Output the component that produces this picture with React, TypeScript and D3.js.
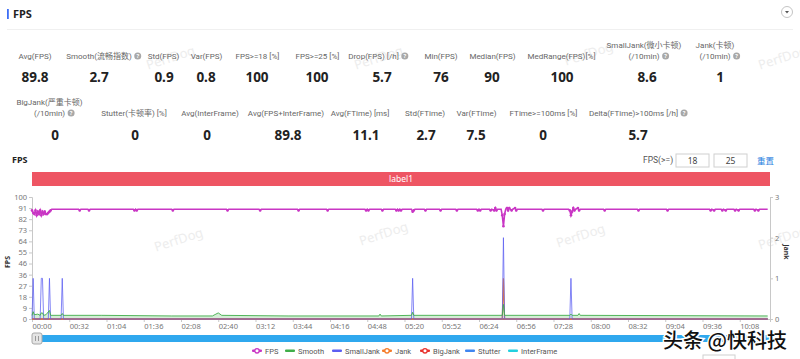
import React, { useEffect, useRef } from "react";
import * as d3 from "d3";

const W = 800;
const H = 359;
const FONT = "'Noto Sans', 'Noto Sans CJK SC', sans-serif";
const LABEL_FONT = "Roboto, 'Noto Sans CJK SC', sans-serif";

// ---- summary stats ----
const topLabels: string[][] = [
  ["Avg(FPS)"], ["Smooth(流畅指数)"], ["Std(FPS)"], ["Var(FPS)"], ["FPS>=18 [%]"], ["FPS>=25 [%]"],
  ["Drop(FPS) [/h]"], ["Min(FPS)"], ["Median(FPS)"], ["MedRange(FPS)[%]"],
  ["SmallJank(微小卡顿)", "(/10min)"], ["Jank(卡顿)", "(/10min)"],
];
const topValues = ["89.8", "2.7", "0.9", "0.8", "100", "100", "5.7", "76", "90", "100", "8.6", "1"];
const topHelp = [false, true, false, false, false, false, true, false, false, false, true, true];

const bottomLabels: string[][] = [
  ["BigJank(严重卡顿)", "(/10min)"], ["Stutter(卡顿率) [%]"], ["Avg(InterFrame)"], ["Avg(FPS+InterFrame)"],
  ["Avg(FTime) [ms]"], ["Std(FTime)"], ["Var(FTime)"], ["FTime>=100ms [%]"], ["Delta(FTime)>100ms [/h]"],
];
const bottomValues = ["0", "0", "0", "89.8", "11.1", "2.7", "7.5", "0", "5.7"];
const bottomHelp = [true, false, false, false, false, false, false, false, true];

// ---- chart series: [seconds, value] ----
const fpsSeries: [number, number][] = [
  [0, 89], [1, 87], [2, 86], [3, 89], [4, 85], [5, 88], [6, 86], [7, 89], [8, 85], [9, 88], [10, 86],
  [11, 88], [12, 86], [13, 86], [14, 87], [15, 88], [16, 89], [17, 90],
  [40, 90], [41, 89], [42, 90], [48, 90], [49, 89], [50, 90],
  [87, 90], [88, 89], [89, 90], [90, 89], [91, 90], [120, 90], [121, 89], [122, 90],
  [167, 90], [168, 89], [169, 90], [195, 90], [196, 89], [197, 90], [228, 90], [229, 89], [230, 90],
  [253, 90], [254, 89], [255, 90], [286, 90], [287, 89], [288, 90], [289, 89], [290, 90],
  [300, 90], [301, 89], [302, 90], [312, 90], [313, 89], [314, 90], [315, 89], [316, 90], [317, 89], [318, 90],
  [326, 90], [327, 88], [328, 89], [329, 90], [337, 90], [338, 89], [339, 90],
  [350, 90], [351, 89], [352, 90], [364, 90], [365, 89], [366, 90],
  [382, 90], [383, 89], [384, 90], [385, 89], [386, 90],
  [393, 90], [394, 89], [395, 90], [397, 89], [398, 91], [399, 89], [400, 90],
  [403, 90], [404, 85], [405, 76], [406, 86], [407, 90], [408, 91], [409, 89], [410, 91], [411, 90],
  [412, 89], [413, 90], [415, 91], [416, 89], [417, 90],
  [438, 90], [439, 89], [440, 90],
  [461, 90], [462, 89], [463, 85], [464, 88], [465, 91], [466, 89], [467, 90], [469, 91], [470, 89], [471, 90],
  [491, 90], [492, 89], [493, 90], [520, 90], [521, 89], [522, 90], [545, 90], [546, 89], [547, 90],
  [582, 90], [583, 89], [584, 90], [586, 89], [587, 90], [592, 90], [593, 89], [594, 90], [596, 89], [597, 90],
  [603, 90], [604, 89], [605, 90], [607, 89], [608, 90], [620, 90], [621, 89], [622, 90], [624, 89], [625, 90],
  [632, 90],
];
const smoothSeries: [number, number][] = [
  [0, 3], [1, 6], [2, 3.5], [5, 4], [7, 3], [8, 5], [9, 5], [10, 3], [12, 3.5], [15, 7], [16, 3],
  [25, 3], [26, 4.5], [27, 3], [60, 3], [120, 2.5], [155, 2.5], [158, 4], [160, 5], [163, 3],
  [220, 2.5], [298, 2.5], [299, 4], [300, 2.5], [326, 3], [327, 5.5], [328, 3],
  [404, 3], [405, 12], [406, 3], [462, 3], [463, 4], [464, 3], [469, 3], [470, 4.5], [471, 3], [632, 2.5],
];
const smallJankSeries: [number, number][] = [
  [0, 0], [1, 1], [2, 0], [7, 0], [8, 1], [9, 1], [10, 0], [14, 0], [15, 1], [16, 0],
  [25, 0], [26, 1], [27, 0], [326, 0], [327, 1], [328, 0], [404, 0], [405, 2], [406, 0],
  [462, 0], [463, 1], [464, 0], [632, 0],
];
const jankSeries: [number, number][] = [[0, 0], [404, 0], [405, 1], [406, 0], [632, 0]];
const bigJankSeries: [number, number][] = [[0, 0], [632, 0]];
const stutterSeries: [number, number][] = [[0, 0], [632, 0]];
const interFrameSeries: [number, number][] = [[0, 0], [632, 0]];

const xTickLabels = [
  "00:00", "00:32", "01:04", "01:36", "02:08", "02:40", "03:12", "03:44", "04:16", "04:48",
  "05:20", "05:52", "06:24", "06:56", "07:28", "08:00", "08:32", "09:04", "09:36", "10:08",
];
const yLeftLabels = ["0", "9", "18", "27", "36", "46", "55", "64", "73", "82", "91", "100"];
const legendNames = ["FPS", "Smooth", "SmallJank", "Jank", "BigJank", "Stutter", "InterFrame"];

const colors: Record<string, string> = {
  FPS: "#c936c4",
  Smooth: "#3fae49",
  SmallJank: "#5b5ef2",
  Jank: "#f57c2a",
  BigJank: "#e8312d",
  Stutter: "#3f86f0",
  InterFrame: "#22d0df",
};

export default function App() {
  const svgRef = useRef<SVGSVGElement>(null);

  useEffect(() => {
    document.body.style.margin = "0";
    const svg = d3.select(svgRef.current);
    svg.selectAll("*").remove();
    svg.attr("font-family", FONT);

    // watermarks
    const marks = [
      [172, 62], [380, 62], [590, 58], [784, 62],
      [180, 244], [385, 238], [582, 240], [784, 242],
    ];
    marks.forEach(([mx, my]) => {
      svg.append("text")
        .attr("transform", `translate(${mx},${my}) rotate(-18)`)
        .attr("text-anchor", "middle")
        .attr("font-size", 13)
        .attr("fill", "#ededed")
        .text("PerfDog");
    });

    // header
    svg.append("rect").attr("x", 7).attr("y", 9).attr("width", 1.8).attr("height", 10).attr("fill", "#3d6ef5");
    svg.append("text").attr("x", 13).attr("y", 18).attr("font-size", 11).attr("font-weight", "bold")
      .attr("fill", "#222").text("FPS");
    svg.append("line").attr("x1", 7).attr("x2", 793).attr("y1", 29.5).attr("y2", 29.5).attr("stroke", "#f0f0f0");
    svg.append("circle").attr("cx", 787).attr("cy", 12).attr("r", 5.5).attr("fill", "#fff").attr("stroke", "#c4c4c4");
    svg.append("path").attr("d", "M785,11 L789,11 L787,13.5 Z").attr("fill", "#555");

    const helpIcon = (hx: number, hy: number) => {
      svg.append("circle").attr("cx", hx).attr("cy", hy).attr("r", 3.5).attr("fill", "#a8a8a8");
      svg.append("text").attr("x", hx).attr("y", hy + 2).attr("text-anchor", "middle")
        .attr("font-size", 5.5).attr("font-weight", "bold").attr("fill", "#fff").text("?");
    };

    const drawStats = (
      labels: string[][], values: string[], help: boolean[],
      labelCx: number[], valueCx: number[], baseY: number, valueY: number
    ) => {
      labels.forEach((lines, i) => {
        lines.forEach((ln, j) => {
          const ly = baseY - (lines.length - 1 - j) * 11;
          const t = svg.append("text").attr("x", labelCx[i]).attr("y", ly).attr("text-anchor", "middle")
            .attr("font-family", LABEL_FONT).attr("font-size", 8).attr("fill", "#666").text(ln);
          if (help[i] && j === lines.length - 1) {
            const w = (t.node() as SVGTextElement).getComputedTextLength();
            helpIcon(labelCx[i] + w / 2 + 6, ly - 3);
          }
        });
        svg.append("text").attr("x", valueCx[i]).attr("y", valueY).attr("text-anchor", "middle")
          .attr("font-size", 13.5).attr("font-weight", "bold").attr("fill", "#222").text(values[i]);
      });
    };

    drawStats(topLabels, topValues, topHelp,
      [35, 99, 163.5, 206.5, 257.5, 317.5, 373.5, 441, 492.5, 561.5, 644, 715],
      [35, 99, 164, 206, 257, 317, 382, 441, 492, 562, 647, 720], 59, 82);
    drawStats(bottomLabels, bottomValues, bottomHelp,
      [49.5, 134, 210, 286, 360, 425, 476.5, 543.5, 633.5],
      [55, 135, 207, 288, 366, 426, 476, 543, 638], 116, 140);

    // chart header
    svg.append("text").attr("x", 12).attr("y", 163).attr("font-size", 9).attr("font-weight", "bold")
      .attr("fill", "#222").text("FPS");
    svg.append("text").attr("x", 643).attr("y", 163).attr("font-family", LABEL_FONT).attr("font-size", 8.5)
      .attr("fill", "#555").text("FPS(>=)");
    [[676, "18"], [714, "25"]].forEach(([bx, v]) => {
      svg.append("rect").attr("x", bx as number).attr("y", 154).attr("width", 33).attr("height", 13)
        .attr("fill", "#fff").attr("stroke", "#d0d0d0");
      svg.append("text").attr("x", (bx as number) + 16.5).attr("y", 163.5).attr("text-anchor", "middle")
        .attr("font-size", 8.5).attr("fill", "#444").text(v as string);
    });
    svg.append("text").attr("x", 757).attr("y", 163.5).attr("font-size", 8.5).attr("fill", "#2b7fe0")
      .attr("font-family", "'Noto Sans CJK SC', sans-serif").text("重置");

    // scales
    const x = d3.scaleLinear().domain([0, 634]).range([32, 770]);
    const yL = d3.scaleLinear().domain([0, 100]).range([319, 197]);
    const yR = d3.scaleLinear().domain([0, 3]).range([319, 197]);

    // label band
    svg.append("rect").attr("x", x(0)).attr("y", 172).attr("width", x(634) - x(0)).attr("height", 14)
      .attr("fill", "#ee5563");
    svg.append("text").attr("x", (x(0) + x(634)) / 2).attr("y", 182).attr("text-anchor", "middle")
      .attr("font-size", 8.5).attr("fill", "#fff").text("label1");

    // axes
    const styleAxis = (g: d3.Selection<SVGGElement, unknown, null, undefined>) => {
      g.select(".domain").attr("stroke", "#c8c8c8");
      g.selectAll(".tick line").attr("stroke", "#c8c8c8");
      g.selectAll(".tick text").attr("fill", "#777").attr("font-size", 7.5).attr("font-family", FONT);
    };
    const leftTicks = yLeftLabels.map((_, i) => (i * 100) / 11);
    svg.append("g").attr("transform", `translate(${x(0)},0)`)
      .call(d3.axisLeft(yL).tickValues(leftTicks).tickSize(3).tickPadding(2)
        .tickFormat((_d, i) => yLeftLabels[i]))
      .call(styleAxis);
    svg.append("g").attr("transform", `translate(${x(634)},0)`)
      .call(d3.axisRight(yR).tickValues([0, 1, 2, 3]).tickSize(3).tickPadding(2).tickFormat(d3.format("d")))
      .call(styleAxis);
    const toSec = (s: string) => +s.slice(0, 2) * 60 + +s.slice(3);
    svg.append("g").attr("transform", `translate(0,${yL(0)})`)
      .call(d3.axisBottom(x).tickValues(xTickLabels.map(toSec)).tickSize(3).tickPadding(2)
        .tickFormat((_d, i) => xTickLabels[i]))
      .call(styleAxis)
      .call((g) => g.selectAll(".tick text").attr("text-anchor", "start"));

    svg.append("text").attr("transform", `translate(10,262) rotate(-90)`).attr("text-anchor", "middle")
      .attr("font-size", 7).attr("font-weight", "bold").attr("fill", "#333").text("FPS");
    svg.append("text").attr("transform", `translate(784,252) rotate(90)`).attr("text-anchor", "middle")
      .attr("font-size", 7).attr("font-weight", "bold").attr("fill", "#333").text("Jank");

    // series
    const lineL = d3.line<[number, number]>().x((d) => x(d[0])).y((d) => yL(d[1]));
    const lineR = d3.line<[number, number]>().x((d) => x(d[0])).y((d) => yR(d[1]));
    const areaL = d3.area<[number, number]>().x((d) => x(d[0])).y0(yL(0)).y1((d) => yL(d[1]));

    const plot = svg.append("g");
    plot.append("path").attr("d", areaL(smoothSeries)).attr("fill", colors.Smooth).attr("opacity", 0.22);
    plot.append("path").attr("d", lineL(interFrameSeries)).attr("fill", "none").attr("stroke", colors.InterFrame).attr("stroke-width", 1);
    plot.append("path").attr("d", lineR(stutterSeries)).attr("fill", "none").attr("stroke", colors.Stutter).attr("stroke-width", 1);
    plot.append("path").attr("d", lineR(bigJankSeries)).attr("fill", "none").attr("stroke", colors.BigJank).attr("stroke-width", 1);
    plot.append("path").attr("d", lineR(jankSeries)).attr("fill", "none").attr("stroke", colors.Jank).attr("stroke-width", 1.2);
    plot.append("path").attr("d", lineR(smallJankSeries)).attr("fill", "none").attr("stroke", colors.SmallJank)
      .attr("stroke-width", 1).attr("opacity", 0.75);
    plot.append("path").attr("d", lineL(smoothSeries)).attr("fill", "none").attr("stroke", colors.Smooth).attr("stroke-width", 0.9);
    plot.append("path").attr("d", lineL(fpsSeries)).attr("fill", "none").attr("stroke", colors.FPS).attr("stroke-width", 1.6);
    plot.selectAll(".fpsdot").data(fpsSeries.filter((d) => d[1] !== 90)).join("circle")
      .attr("cx", (d) => x(d[0])).attr("cy", (d) => yL(d[1])).attr("r", 1.3).attr("fill", colors.FPS);

    // zoom slider
    svg.append("rect").attr("x", x(0)).attr("y", 335).attr("width", x(634) - x(0)).attr("height", 7).attr("fill", "#2fa8ee");
    svg.append("rect").attr("x", 32).attr("y", 333).attr("width", 10).attr("height", 11).attr("rx", 2)
      .attr("fill", "#e4e4e4").attr("stroke", "#a8a8a8");
    [35.5, 38.5].forEach((lx) =>
      svg.append("line").attr("x1", lx).attr("x2", lx).attr("y1", 336).attr("y2", 341).attr("stroke", "#999"));

    // legend
    const legendX = [252, 285, 332, 382, 420, 465, 508];
    const dotted = new Set(["FPS", "Jank", "BigJank"]);
    legendNames.forEach((name, i) => {
      const lx = legendX[i];
      const c = colors[name];
      svg.append("rect").attr("x", lx).attr("y", 349.5).attr("width", 10).attr("height", 2.5).attr("rx", 1).attr("fill", c);
      if (dotted.has(name)) {
        svg.append("circle").attr("cx", lx + 5).attr("cy", 350.8).attr("r", 2.2).attr("fill", "#fff").attr("stroke", c).attr("stroke-width", 1.3);
      }
      svg.append("text").attr("x", lx + 13).attr("y", 353.5).attr("font-family", LABEL_FONT).attr("font-size", 7.5)
        .attr("fill", "#555").text(name);
    });

    svg.append("rect").attr("x", 703).attr("y", 355).attr("width", 32).attr("height", 10).attr("fill", "#fff").attr("stroke", "#d0d0d0");

    // overlay caption
    svg.append("text").attr("x", 663).attr("y", 348).attr("font-size", 20).attr("font-weight", 500)
      .attr("font-family", "'Noto Sans CJK SC', sans-serif")
      .attr("fill", "#111").attr("stroke", "#fff").attr("stroke-width", 3).attr("paint-order", "stroke")
      .text("头条 @快科技");
  }, []);

  return <svg ref={svgRef} width={W} height={H} style={{ display: "block", background: "#fff" }} />;
}
